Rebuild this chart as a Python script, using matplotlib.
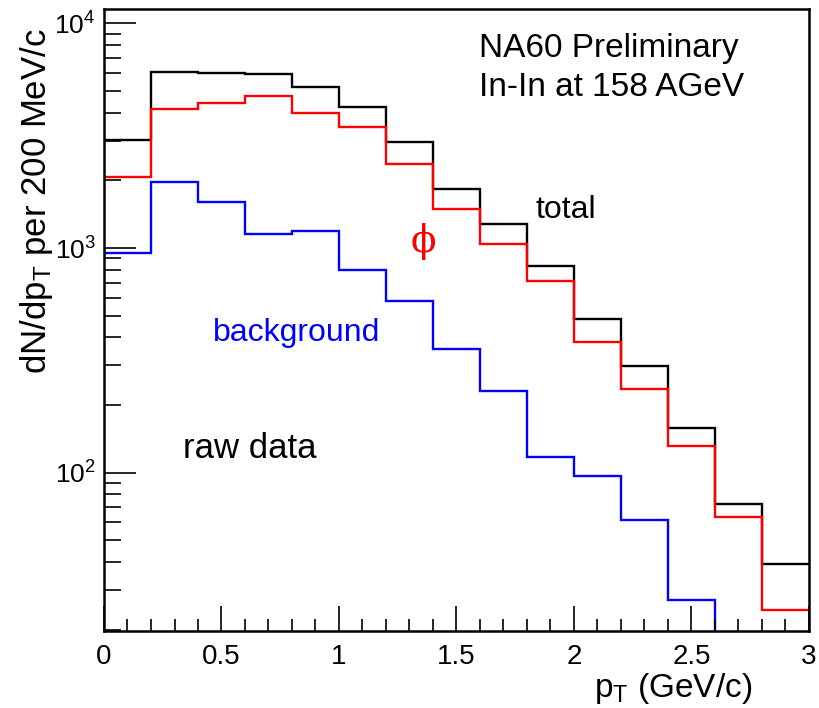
import numpy as np
import matplotlib
matplotlib.use("Agg")
import matplotlib.pyplot as plt
from matplotlib.ticker import MultipleLocator, LogLocator, LogFormatterMathtext, NullFormatter

plt.rcParams['font.family'] = ['Liberation Sans', 'DejaVu Sans']
plt.rcParams['mathtext.fontset'] = 'custom'
plt.rcParams['mathtext.rm'] = 'Liberation Sans'
plt.rcParams['mathtext.it'] = 'Liberation Sans:italic'
plt.rcParams['mathtext.bf'] = 'Liberation Sans:bold'

# bin edges in pT (GeV/c)
edges = [0.0, 0.2, 0.4, 0.6, 0.8, 1.0, 1.2, 1.4, 1.6, 1.8, 2.0, 2.2, 2.4, 2.6, 2.8, 3.0]
total = [3020, 6090, 6000, 5940, 5190, 4250, 2970, 1830, 1276, 830, 482, 298, 158, 72.2, 39.1]
phi = [2073, 4150, 4415, 4745, 3985, 3450, 2378, 1489, 1047, 716, 382, 235, 131.5, 63.4, 24.5]
background = [951, 1977, 1600, 1159, 1192, 802, 579, 356.5, 230, 117.8, 96.6, 61.8, 27.2, 15, 12]

fig = plt.figure(figsize=(8.2, 7.08), dpi=100)
ax = fig.add_axes([104/820, 1-631/708, (809-104)/820, (631-9)/708])

lw = 1.7
ax.stairs(total, edges, baseline=None, color='black', lw=lw)
ax.stairs(phi, edges, baseline=None, color='#ff0000', lw=lw)
ax.stairs(background, edges, baseline=None, color='#0000ff', lw=lw)

ax.set_yscale('log')
ax.set_xlim(0, 3)
ax.set_ylim(19.7, 11600)

for s in ax.spines.values():
    s.set_linewidth(1.8)

ax.xaxis.set_major_locator(MultipleLocator(0.5))
ax.xaxis.set_minor_locator(MultipleLocator(0.1))
ax.xaxis.set_major_formatter(matplotlib.ticker.FuncFormatter(lambda v, p: f"{v:g}"))
ax.yaxis.set_major_locator(LogLocator(base=10, numticks=10))
ax.yaxis.set_minor_locator(LogLocator(base=10, subs=np.arange(2, 10), numticks=20))
ax.yaxis.set_major_formatter(LogFormatterMathtext())
ax.yaxis.set_minor_formatter(NullFormatter())

ax.tick_params(axis='both', which='both', direction='in', top=False, right=False, width=1.2)
ax.tick_params(axis='y', which='major', length=23, labelsize=19, pad=6)
ax.tick_params(axis='y', which='minor', length=12)
ax.tick_params(axis='x', which='major', length=18, labelsize=20, pad=9)
ax.tick_params(axis='x', which='minor', length=9)

fig.text(752/820, 1-688/708, r'p$_\mathrm{T}$ (GeV/c)', ha='right', va='center', fontsize=24)
fig.text(37/820, 1-28/708, r'dN/dp$_\mathrm{T}$ per 200 MeV/c', ha='center', va='top',
         rotation=90, fontsize=25)

fig.text(479/820, 1-48/708, 'NA60 Preliminary', ha='left', va='center', fontsize=24)
fig.text(479/820, 1-87/708, 'In-In at 158 AGeV', ha='left', va='center', fontsize=24)
fig.text(535/820, 1-210/708, 'total', ha='left', va='center', fontsize=23)
fig.text(213/820, 1-333/708, 'background', ha='left', va='center', fontsize=23, color='#0000ff')
fig.text(183/820, 1-448/708, 'raw data', ha='left', va='center', fontsize=25)
fig.text(423/820, 1-241/708, '\u03d5', ha='center', va='center', fontsize=27,
         color='#ff0000', family=['DejaVu Serif', 'Liberation Serif'])

fig.savefig('out.png', dpi=100)
